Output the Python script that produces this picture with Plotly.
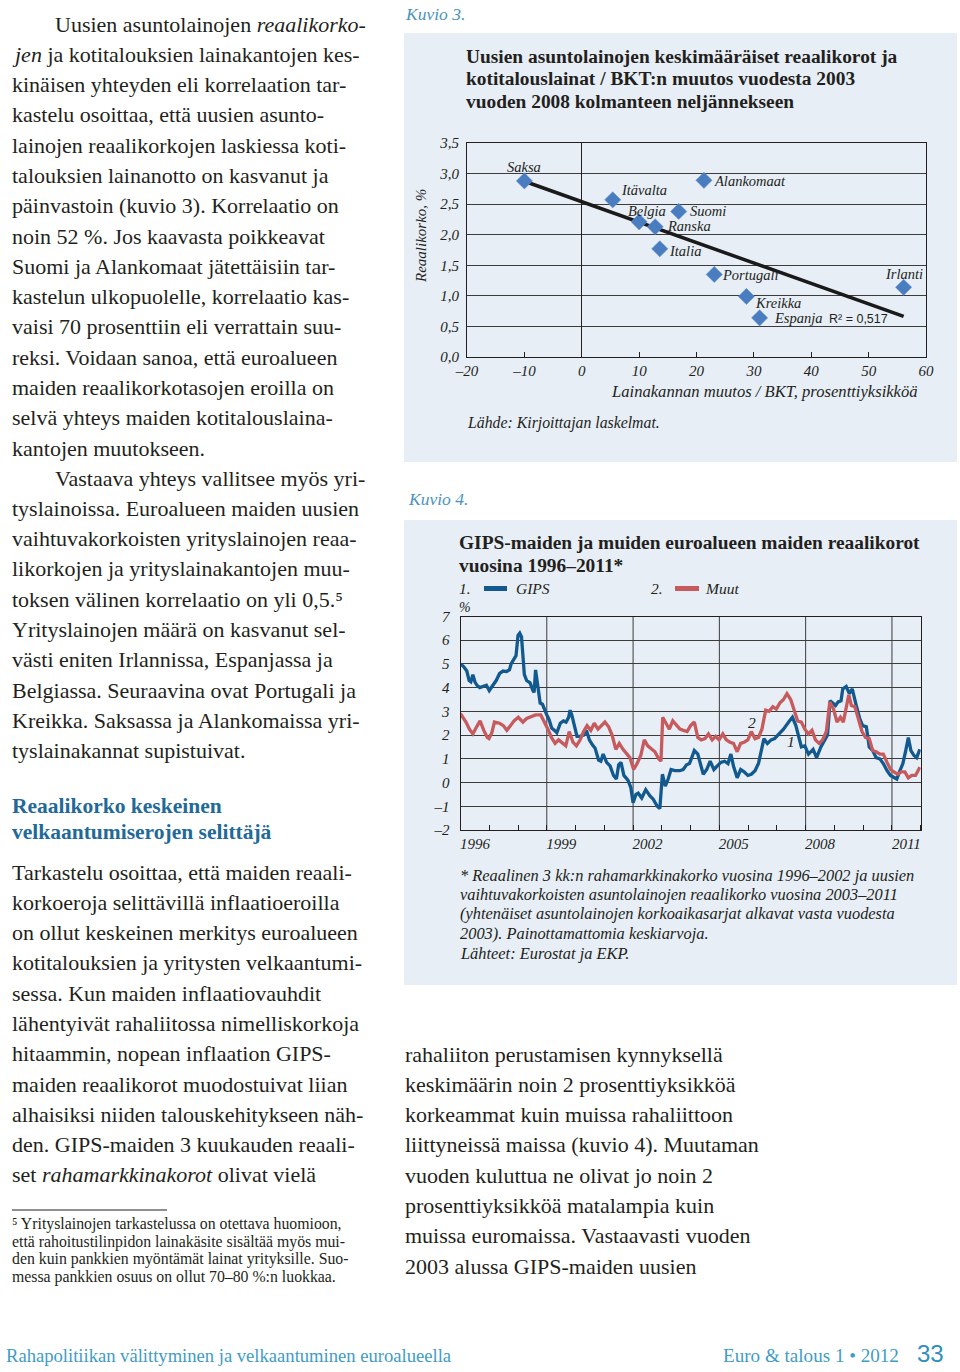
import numpy as np
import plotly.graph_objects as go

W, H = 960, 1372


def px(x):
    return x / W


def py(y):
    return 1 - y / H


# ---------------- Kuvio 3 data ----------------
countries = ["Saksa", "Itävalta", "Alankomaat", "Belgia", "Suomi", "Ranska",
             "Italia", "Portugali", "Kreikka", "Espanja", "Irlanti"]
loan_change = [-10.0, 5.4, 21.3, 10.0, 16.9, 12.8, 13.6, 23.1, 28.7, 31.0, 56.1]
real_rate = [2.88, 2.57, 2.89, 2.21, 2.38, 2.13, 1.77, 1.35, 0.99, 0.64, 1.14]
r2_text = "R² = 0,517"
k3_xticks = [-20, -10, 0, 10, 20, 30, 40, 50, 60]
k3_xticktext = ["–20", "–10", "0", "10", "20", "30", "40", "50", "60"]
k3_yticks = [0, 0.5, 1.0, 1.5, 2.0, 2.5, 3.0, 3.5]
k3_yticktext = ["0,0", "0,5", "1,0", "1,5", "2,0", "2,5", "3,0", "3,5"]

# ---------------- Kuvio 4 data ----------------
gips_t = [1996.00, 1996.10, 1996.22, 1996.30, 1996.36, 1996.43, 1996.50, 1996.57, 1996.67, 1996.79,
          1996.90, 1997.00, 1997.12, 1997.24, 1997.36, 1997.48, 1997.60, 1997.70, 1997.76, 1997.84,
          1997.93, 1998.00, 1998.06, 1998.12, 1998.18, 1998.22, 1998.30, 1998.42, 1998.51, 1998.56,
          1998.61, 1998.66, 1998.71, 1998.77, 1998.85, 1998.92, 1999.00, 1999.08, 1999.17, 1999.27,
          1999.35, 1999.47, 1999.58, 1999.67, 1999.76, 1999.81, 1999.87, 1999.97, 2000.05, 2000.16,
          2000.28, 2000.38, 2000.48, 2000.58, 2000.68, 2000.80, 2000.88, 2000.96, 2001.08, 2001.20,
          2001.32, 2001.42, 2001.50, 2001.58, 2001.68, 2001.82, 2001.92, 2002.00, 2002.10, 2002.18,
          2002.30, 2002.44, 2002.58, 2002.70, 2002.84, 2002.93, 2003.02, 2003.12, 2003.22, 2003.32,
          2003.45, 2003.62, 2003.74, 2003.86, 2003.96, 2004.04, 2004.13, 2004.25, 2004.37, 2004.44,
          2004.56, 2004.68, 2004.81, 2004.93, 2005.05, 2005.18, 2005.30, 2005.40, 2005.49, 2005.62,
          2005.74, 2005.86, 2005.99, 2006.11, 2006.24, 2006.36, 2006.46, 2006.55, 2006.67, 2006.80,
          2006.92, 2007.04, 2007.23, 2007.41, 2007.54, 2007.66, 2007.76, 2007.85, 2007.97, 2008.10,
          2008.26, 2008.38, 2008.53, 2008.68, 2008.76, 2008.85, 2008.96, 2009.04, 2009.13, 2009.23,
          2009.29, 2009.41, 2009.52, 2009.62, 2009.75, 2009.88, 2009.98, 2010.11, 2010.21, 2010.33,
          2010.45, 2010.58, 2010.70, 2010.83, 2010.95, 2011.07, 2011.17, 2011.26, 2011.38, 2011.48,
          2011.57, 2011.66, 2011.76, 2011.86, 2011.97]
gips_v = [5.0, 4.9, 4.7, 4.3, 4.25, 4.55, 4.25, 4.1, 4.0, 4.05,
          4.1, 3.88, 4.1, 4.3, 4.6, 4.7, 4.68, 4.75, 5.0, 5.2,
          5.35, 6.2, 6.3, 6.15, 5.0, 4.55, 4.3, 4.2, 3.9, 3.8,
          4.75, 4.35, 3.75, 3.35, 3.3, 3.05, 2.85, 2.65, 2.3, 2.2,
          2.1, 2.5, 2.6, 2.55, 2.75, 3.05, 2.85, 2.35, 1.95, 1.95,
          2.0, 2.2, 1.8, 1.6, 1.45, 0.95, 0.9, 1.2, 0.85, 0.7,
          0.3, 0.15, 0.75, 0.85, 0.3, 0.1, -0.2, -0.85, -0.5, -0.45,
          -0.65, -0.3, -0.55, -0.7, -1.0, -1.1, 0.35, -0.15, 0.15, 0.55,
          0.5, 0.5, 0.55, 0.75, 0.8, 1.05, 1.35, 1.2, 0.7, 0.35,
          0.55, 0.9, 0.55, 0.7, 0.85, 0.9, 0.8, 1.2, 0.7, 0.2,
          0.55, 0.45, 0.3, 0.35, 0.5, 0.8, 1.4, 1.85, 1.65, 1.8,
          1.85, 2.0, 2.25, 2.55, 2.75, 2.4, 1.9, 1.5, 1.55, 1.2,
          1.4, 1.05, 1.5, 1.85, 2.0, 3.45, 3.35, 3.25, 3.4, 3.45,
          3.95, 4.05, 3.75, 3.95, 3.3, 2.7, 2.4, 2.35, 1.5, 1.35,
          1.05, 1.0, 0.8, 0.5, 0.3, 0.2, 0.15, 0.45, 0.8, 1.35,
          1.9, 1.35, 1.15, 1.05, 1.4]

muut_t = [1996.00, 1996.19, 1996.31, 1996.43, 1996.56, 1996.68, 1996.81, 1996.93, 1996.99, 1997.09,
          1997.18, 1997.36, 1997.49, 1997.61, 1997.74, 1997.86, 1998.01, 1998.17, 1998.30, 1998.42,
          1998.61, 1998.79, 1998.92, 1999.04, 1999.16, 1999.29, 1999.41, 1999.54, 1999.66, 1999.78,
          1999.91, 2000.03, 2000.16, 2000.28, 2000.40, 2000.53, 2000.65, 2000.78, 2000.90, 2001.02,
          2001.15, 2001.27, 2001.40, 2001.52, 2001.65, 2001.77, 2001.89, 2002.02, 2002.14, 2002.27,
          2002.39, 2002.51, 2002.64, 2002.76, 2002.89, 2002.97, 2003.03, 2003.13, 2003.26, 2003.38,
          2003.51, 2003.63, 2003.75, 2003.88, 2004.00, 2004.13, 2004.25, 2004.37, 2004.50, 2004.62,
          2004.75, 2004.87, 2004.99, 2005.12, 2005.24, 2005.37, 2005.49, 2005.62, 2005.74, 2005.86,
          2005.99, 2006.11, 2006.24, 2006.36, 2006.48, 2006.61, 2006.73, 2006.86, 2006.98, 2007.10,
          2007.23, 2007.35, 2007.48, 2007.60, 2007.72, 2007.85, 2007.97, 2008.10, 2008.22, 2008.34,
          2008.47, 2008.59, 2008.72, 2008.84, 2008.97, 2009.09, 2009.21, 2009.31, 2009.40, 2009.50,
          2009.59, 2009.71, 2009.83, 2009.96, 2010.08, 2010.21, 2010.33, 2010.45, 2010.58, 2010.70,
          2010.83, 2010.95, 2011.07, 2011.20, 2011.32, 2011.45, 2011.57, 2011.69, 2011.82, 2011.97]
muut_v = [2.9, 2.55, 2.25, 2.05, 2.35, 2.6, 2.2, 1.9, 1.85, 2.1,
          2.55, 2.5, 2.4, 2.2, 2.4, 2.6, 2.75, 2.55, 2.7, 2.75,
          2.85, 2.85, 2.55, 2.25, 1.9, 1.65, 1.8, 1.65, 1.55, 2.15,
          1.7, 1.55, 1.8, 2.15, 2.4, 2.2, 2.5, 2.25, 2.4, 2.55,
          2.35, 2.0, 1.4, 1.65, 1.4, 1.2, 1.05, 0.55, 0.8, 1.15,
          1.8, 1.55, 1.4, 1.3, 1.0, 0.9, 2.75, 2.55, 2.25, 2.6,
          2.4, 2.25, 2.2, 2.15, 2.4, 2.55, 1.9, 1.8, 1.85, 2.05,
          1.8, 1.95, 1.8, 2.05, 1.8, 1.7, 1.65, 1.3, 1.65, 1.7,
          1.8, 2.15, 1.85, 1.9, 2.25, 3.05, 3.0, 3.2, 3.1, 3.35,
          3.5, 3.75, 3.5, 3.05, 2.6, 2.55, 2.25, 2.05, 2.2, 1.8,
          1.65, 1.8, 2.15, 3.4, 3.1, 2.55, 2.75, 2.55, 3.1, 3.7,
          3.25, 3.2, 2.7, 2.15, 1.9, 1.85, 1.35, 1.3, 1.2, 1.2,
          0.85, 0.55, 0.45, 0.35, 0.45, 0.45, 0.2, 0.3, 0.3, 0.65]

k4_label_years = [1996, 1999, 2002, 2005, 2008, 2011]
k4_grid_years = [1999, 2002, 2005, 2008, 2011]
k4_yticks = [-2, -1, 0, 1, 2, 3, 4, 5, 6, 7]
k4_yticktext = ["–2", "–1", "0", "1", "2", "3", "4", "5", "6", "7"]
series_names = ["GIPS", "Muut"]

# ---------------- styles ----------------
SERIF = "Liberation Serif"
INK = "#231f20"
PANEL = "#e7eef6"
GRID = "#3c3c3c"
TEAL = "#4a93bf"
HEAD = "#1f6a98"
BLUE = "#12598f"
RED = "#c75a5c"
MARK = "#4a7cc0"
BODY = 22.0

# label placement (pixel offsets from each point, anchor) -- style only
label_style = {
    "Saksa": (0, 14, "center"), "Itävalta": (6, 9.5, "left"),
    "Alankomaat": (8, -1, "left"), "Belgia": (7.5, 11, "center"),
    "Suomi": (9.5, 0, "left"), "Ranska": (10, 0.5, "left"),
    "Italia": (7, -2, "left"), "Portugali": (6, -1, "left"),
    "Kreikka": (7, -6.5, "left"), "Espanja": (12, 0, "left"),
    "Irlanti": (0, 13, "center"),
}

fig = go.Figure()

# Kuvio 3 scatter + fitted trend line
slope, intercept = np.polyfit(loan_change, real_rate, 1)
xfit = np.array([min(loan_change), max(loan_change)])
fig.add_trace(go.Scatter(x=xfit, y=slope * xfit + intercept, mode="lines",
                         line=dict(color="#1a1a1a", width=3.5), xaxis="x", yaxis="y",
                         hoverinfo="skip"))
fig.add_trace(go.Scatter(x=loan_change, y=real_rate, mode="markers", text=countries,
                         marker=dict(symbol="diamond", size=12.5, color=MARK,
                                     line=dict(color="#6f97cf", width=0.5)),
                         xaxis="x", yaxis="y"))

# Kuvio 4 lines
fig.add_trace(go.Scatter(x=gips_t, y=gips_v, mode="lines", name=series_names[0],
                         line=dict(color=BLUE, width=3.3), xaxis="x2", yaxis="y2"))
fig.add_trace(go.Scatter(x=muut_t, y=muut_v, mode="lines", name=series_names[1],
                         line=dict(color=RED, width=3.3), xaxis="x2", yaxis="y2"))

tickfont = dict(family=SERIF, size=15, color=INK, style="italic")
frame = dict(showline=True, mirror=True, linecolor=INK, linewidth=1.2, automargin=False)

fig.update_layout(
    width=W, height=H, margin=dict(l=0, r=0, t=0, b=0, pad=0, autoexpand=False),
    paper_bgcolor="white", plot_bgcolor="rgba(0,0,0,0)", showlegend=False,
    xaxis=dict(domain=[px(467), px(926)], range=[-20, 60], tickmode="array",
               tickvals=k3_xticks, ticktext=k3_xticktext, ticks="inside", ticklen=5,
               tickcolor=INK, showgrid=False, zeroline=True, zerolinecolor=INK,
               zerolinewidth=1.2, tickfont=tickfont, anchor="y", **frame),
    yaxis=dict(domain=[py(357), py(143)], range=[0, 3.5], tickmode="array",
               tickvals=k3_yticks, ticktext=k3_yticktext, ticks="", showgrid=True,
               gridcolor=GRID, gridwidth=1, zeroline=False, tickfont=tickfont,
               ticklabelstandoff=4, anchor="x", **frame),
    xaxis2=dict(domain=[px(460.5), px(920.7)], range=[1996, 2012], tickmode="array",
                tickvals=[y + 0.5 for y in k4_label_years],
                ticktext=[str(y) for y in k4_label_years], ticks="",
                minor=dict(tickmode="linear", tick0=1996, dtick=1, ticks="inside",
                           ticklen=5, tickcolor=INK, showgrid=False),
                showgrid=False, zeroline=False, tickfont=tickfont, anchor="y2", **frame),
    yaxis2=dict(domain=[py(830), py(616.5)], range=[-2, 7], tickmode="array",
                tickvals=k4_yticks, ticktext=k4_yticktext, ticks="", showgrid=True,
                gridcolor=GRID, gridwidth=1, zeroline=False, tickfont=tickfont,
                ticklabelstandoff=7, anchor="x2", **frame),
)

shapes = []
# panel backgrounds
for (x0, y0, x1, y1) in [(404, 33, 957, 462), (404, 520, 957, 985)]:
    shapes.append(dict(type="rect", xref="paper", yref="paper", x0=px(x0), x1=px(x1),
                       y0=py(y1), y1=py(y0), fillcolor=PANEL, line=dict(width=0),
                       layer="below"))
# vertical grid lines of Kuvio 4
for g in k4_grid_years:
    shapes.append(dict(type="line", xref="x2", yref="y2 domain", x0=g, x1=g, y0=0, y1=1,
                       line=dict(color=GRID, width=1), layer="below"))
# legend swatches Kuvio 4
shapes.append(dict(type="line", xref="paper", yref="paper", x0=px(484), x1=px(507),
                   y0=py(588.5), y1=py(588.5), line=dict(color=BLUE, width=5)))
shapes.append(dict(type="line", xref="paper", yref="paper", x0=px(675), x1=px(699),
                   y0=py(588.5), y1=py(588.5), line=dict(color=RED, width=5)))
# footnote rule
shapes.append(dict(type="line", xref="paper", yref="paper", x0=px(12), x1=px(167),
                   y0=py(1210), y1=py(1210), line=dict(color=INK, width=1)))
fig.update_layout(shapes=shapes)

ann = []


def T(x, y, text, size=BODY, color=INK, anchor="left", family=SERIF, **kw):
    ann.append(dict(x=px(x), y=py(y), xref="paper", yref="paper", text=text,
                    showarrow=False, xanchor=anchor, yanchor="middle",
                    font=dict(family=family, size=size, color=color), **kw))


# point labels of Kuvio 3
for name, xv, yv in zip(countries, loan_change, real_rate):
    dx, dy, anc = label_style[name]
    ann.append(dict(x=xv, y=yv, xref="x", yref="y", text="<i>" + name + "</i>",
                    showarrow=False, xanchor=anc, yanchor="middle", xshift=dx, yshift=dy,
                    font=dict(family=SERIF, size=14.5, color=INK)))

# ---------- left column body text ----------
LH = 30.29
para1 = ["Uusien asuntolainojen <i>reaalikorko-</i>",
         "<i>jen</i> ja kotitalouksien lainakantojen kes-",
         "kinäisen yhteyden eli korrelaation tar-",
         "kastelu osoittaa, että uusien asunto-",
         "lainojen reaalikorkojen laskiessa koti-",
         "talouksien lainanotto on kasvanut ja",
         "päinvastoin (kuvio 3). Korrelaatio on",
         "noin 52 %. Jos kaavasta poikkeavat",
         "Suomi ja Alankomaat jätettäisiin tar-",
         "kastelun ulkopuolelle, korrelaatio kas-",
         "vaisi 70 prosenttiin eli verrattain suu-",
         "reksi. Voidaan sanoa, että euroalueen",
         "maiden reaalikorkotasojen eroilla on",
         "selvä yhteys maiden kotitalouslaina-",
         "kantojen muutokseen."]
para2 = ["Vastaava yhteys vallitsee myös yri-",
         "tyslainoissa. Euroalueen maiden uusien",
         "vaihtuvakorkoisten yrityslainojen reaa-",
         "likorkojen ja yrityslainakantojen muu-",
         "toksen välinen korrelaatio on yli 0,5.⁵",
         "Yrityslainojen määrä on kasvanut sel-",
         "västi eniten Irlannissa, Espanjassa ja",
         "Belgiassa. Seuraavina ovat Portugali ja",
         "Kreikka. Saksassa ja Alankomaissa yri-",
         "tyslainakannat supistuivat."]
para3 = ["Tarkastelu osoittaa, että maiden reaali-",
         "korkoeroja selittävillä inflaatioeroilla",
         "on ollut keskeinen merkitys euroalueen",
         "kotitalouksien ja yritysten velkaantumi-",
         "sessa. Kun maiden inflaatiovauhdit",
         "lähentyivät rahaliitossa nimelliskorkoja",
         "hitaammin, nopean inflaation GIPS-",
         "maiden reaalikorot muodostuivat liian",
         "alhaisiksi niiden talouskehitykseen näh-",
         "den. GIPS-maiden 3 kuukauden reaali-",
         "set <i>rahamarkkinakorot</i> olivat vielä"]
for i, line in enumerate(para1):
    T(53 if i == 0 else 10, 24 + i * LH, line)
for i, line in enumerate(para2):
    T(53 if i == 0 else 10, 478 + i * LH, line)
T(10, 806, "<b>Reaalikorko keskeinen</b>", size=21.5, color=HEAD)
T(10, 832, "<b>velkaantumiserojen selittäjä</b>", size=21.5, color=HEAD)
for i, line in enumerate(para3):
    T(10, 872 + i * LH, line)

foot = ["⁵ Yrityslainojen tarkastelussa on otettava huomioon,",
        "että rahoitustilinpidon lainakäsite sisältää myös mui-",
        "den kuin pankkien myöntämät lainat yrityksille. Suo-",
        "messa pankkien osuus on ollut 70–80 %:n luokkaa."]
for i, line in enumerate(foot):
    T(10, 1224 + i * 17.5, line, size=15.8)

# ---------- right column lower text ----------
para4 = ["rahaliiton perustamisen kynnyksellä",
         "keskimäärin noin 2 prosenttiyksikköä",
         "korkeammat kuin muissa rahaliittoon",
         "liittyneissä maissa (kuvio 4). Muutaman",
         "vuoden kuluttua ne olivat jo noin 2",
         "prosenttiyksikköä matalampia kuin",
         "muissa euromaissa. Vastaavasti vuoden",
         "2003 alussa GIPS-maiden uusien"]
for i, line in enumerate(para4):
    T(403, 1054 + i * LH, line)

# ---------- Kuvio 3 texts ----------
T(403, 14, "<i>Kuvio 3.</i>", size=17.5, color=TEAL)
k3_title = ["Uusien asuntolainojen keskimääräiset reaalikorot ja",
            "kotitalouslainat / BKT:n muutos vuodesta 2003",
            "vuoden 2008 kolmanteen neljännekseen"]
for i, line in enumerate(k3_title):
    T(464, 56 + i * 22.8, "<b>" + line + "</b>", size=19.4)
ann.append(dict(x=px(421), y=py(236), xref="paper", yref="paper",
                text="<i>Reaalikorko, %</i>", showarrow=False, textangle=-90,
                xanchor="center", yanchor="middle",
                font=dict(family=SERIF, size=15, color=INK)))
T(920, 391, "<i>Lainakannan muutos / BKT, prosenttiyksikköä</i>", size=16.6, anchor="right")
T(465, 423, "<i>Lähde: Kirjoittajan laskelmat.</i>", size=15.8)
ann.append(dict(x=42.7, y=0.62, xref="x", yref="y", text=r2_text, showarrow=False,
                xanchor="left", yanchor="middle",
                font=dict(family="Liberation Sans", size=12.5, color=INK)))

# ---------- Kuvio 4 texts ----------
T(406, 499, "<i>Kuvio 4.</i>", size=17.5, color=TEAL)
T(457, 542, "<b>GIPS-maiden ja muiden euroalueen maiden reaalikorot</b>", size=19.4)
T(457, 565, "<b>vuosina 1996–2011*</b>", size=19.4)
T(457, 588, "<i>1.</i>", size=15.5)
T(514, 588, "<i>" + series_names[0] + "</i>", size=15.5)
T(649, 588, "<i>2.</i>", size=15.5)
T(703, 588, "<i>" + series_names[1] + "</i>", size=15.5)
T(457, 607, "<i>%</i>", size=14)
ann.append(dict(x=2006.15, y=2.55, xref="x2", yref="y2", text="<i>2</i>", showarrow=False,
                font=dict(family=SERIF, size=15.5, color=INK)))
ann.append(dict(x=2007.5, y=1.75, xref="x2", yref="y2", text="<i>1</i>", showarrow=False,
                font=dict(family=SERIF, size=15.5, color=INK)))
k4_note = ["* Reaalinen 3 kk:n rahamarkkinakorko vuosina 1996–2002 ja uusien",
           "vaihtuvakorkoisten asuntolainojen reaalikorko vuosina 2003–2011",
           "(yhtenäiset asuntolainojen korkoaikasarjat alkavat vasta vuodesta",
           "2003). Painottamattomia keskiarvoja.",
           "Lähteet: Eurostat ja EKP."]
for i, line in enumerate(k4_note):
    T(458, 875 + i * 19.5, "<i>" + line + "</i>", size=16.4)

# ---------- footer ----------
T(4, 1355, "Rahapolitiikan välittyminen ja velkaantuminen euroalueella", size=18.6,
  color="#3f9cc6")
T(721, 1355, "Euro &amp; talous 1 • 2012", size=19.1, color="#3f9cc6")
T(915, 1353, "33", size=24, color="#2f8fbd", family="Liberation Sans")

fig.update_layout(annotations=ann)
fig.write_html("out.html", config={"displayModeBar": False},
               post_script="document.body.style.margin='0';"
                           "document.body.style.overflow='hidden';")
